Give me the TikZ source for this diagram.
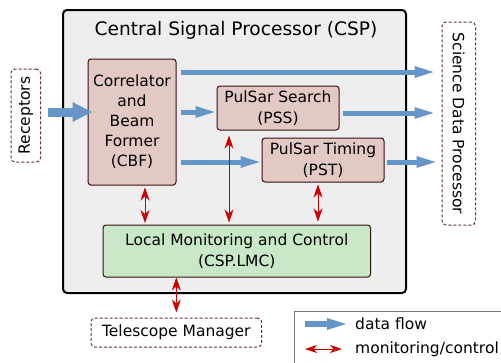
\documentclass[tikz,border=0pt]{standalone}
\usepackage{fontspec}
\setmainfont{DejaVu Sans}
\usepackage{graphicx}
\usetikzlibrary{arrows.meta}

\definecolor{flowblue}{RGB}{100,150,200}
\definecolor{ctlred}{RGB}{204,0,0}
\definecolor{boxedge}{RGB}{58,13,13}
\definecolor{dashedge}{RGB}{106,48,48}
\definecolor{subfill}{RGB}{227,201,195}
\definecolor{lmcfill}{RGB}{200,232,200}
\definecolor{cspfill}{RGB}{238,238,238}

\tikzset{
  txt/.style={font=\fontsize{15.5}{21}\selectfont},
  cspbox/.style={draw=black, line width=2pt, fill=cspfill, rounded corners=4pt, inner sep=0pt},
  subbox/.style={draw=boxedge, line width=1pt, fill=subfill, rounded corners=3pt,
                 inner sep=0pt, align=center, txt},
  lmcbox/.style={subbox, fill=lmcfill},
  extbox/.style={draw=dashedge, line width=1pt, dash pattern=on 3pt off 2pt,
                 fill=white, rounded corners=4pt, inner sep=0pt, align=center, txt},
  flow/.style={draw=flowblue, line width=5pt,
               -{Triangle[length=19pt,width=12pt,line width=0pt]}},
  bigflow/.style={draw=flowblue, line width=9pt,
               -{Triangle[length=19pt,width=20pt,line width=0pt]}},
  ctl/.style={draw=ctlred, line width=0.9pt,
              {Stealth[length=13pt,width=9pt,inset=4pt]}-{Stealth[length=13pt,width=9pt,inset=4pt]}},
  ctlsmall/.style={draw=ctlred, line width=0.9pt,
              {Stealth[length=12pt,width=8pt,inset=3.5pt]}-{Stealth[length=12pt,width=8pt,inset=3.5pt]}},
}

\begin{document}
\begin{tikzpicture}[x=1pt, y=-1pt]
\useasboundingbox (0,0) rectangle (501,362);

% Central Signal Processor frame and title
\node[cspbox, minimum width=343pt, minimum height=283pt] (csp) at (234.5,151.5) {};
\node[font=\fontsize{18.6}{22}\selectfont] (title) at (236,30) {Central Signal Processor (CSP)};

% external entities
\node[extbox, minimum width=29.5pt, minimum height=93pt] (rec) at (25.75,115.5)
  {\rotatebox[origin=c]{90}{Receptors}};
\node[extbox, minimum width=33.5pt, minimum height=203pt] (sdp) at (458.75,123.5)
  {\rotatebox[origin=c]{-90}{Science Data Processor}};
\node[extbox, minimum width=170.7pt, minimum height=29pt] (tm) at (176.35,332.5)
  {Telescope Manager};

% CSP sub-elements
\node[subbox, minimum width=88pt, minimum height=126pt,
      font=\fontsize{15.5}{20}\selectfont] (cbf) at (132,122)
  {Correlator\\and\\Beam\\Former\\(CBF)};
\node[subbox, minimum width=122pt, minimum height=44pt] (pss) at (278,108)
  {PulSar Search\\(PSS)};
\node[subbox, minimum width=122pt, minimum height=44pt] (pst) at (323,160)
  {PulSar Timing\\(PST)};
\node[lmcbox, minimum width=267.5pt, minimum height=52pt] (lmc) at (236.75,251)
  {Local Monitoring and Control\\(CSP.LMC)};

% data flow
\draw[bigflow, shorten <=6.5pt, shorten >=-4pt] (rec.east |- 0,112) -- (cbf.west |- 0,112);
\draw[flow, shorten <=4pt, shorten >=8pt] (cbf.east |- 0,72) -- (sdp.west |- 0,72);
\draw[flow, shorten <=4pt, shorten >=2pt] (cbf.east |- 0,112) -- (pss.west |- 0,112);
\draw[flow, shorten <=3pt, shorten >=8pt] (pss.east |- 0,113) -- (sdp.west |- 0,113);
\draw[flow, shorten <=4pt, shorten >=2pt] (cbf.east |- 0,162) -- (pst.west |- 0,162);
\draw[flow, shorten <=2pt, shorten >=6pt] (pst.east |- 0,162) -- (sdp.west |- 0,162);

% monitoring and control
\draw[ctl, shorten <=2pt, shorten >=1.5pt] (cbf.south -| 145,0) -- (lmc.north -| 145,0);
\draw[ctl, shorten <=5pt, shorten >=2pt] (pss.south -| 229,0) -- (lmc.north -| 229,0);
\draw[ctl, shorten <=2pt, shorten >=3pt] (pst.south -| 318,0) -- (lmc.north -| 318,0);
\draw[ctl, shorten <=0pt, shorten >=5pt] (lmc.south -| tm.north) -- (tm.north);

% legend
\node[draw={rgb,255:red,120;green,120;blue,120}, line width=1pt, inner sep=0pt,
      minimum width=240pt, minimum height=70pt, anchor=north west] (legend) at (294,310.5) {};
\coordinate (lfa) at (305,324);
\coordinate (lfb) at (346,324);
\coordinate (lca) at (305,349);
\coordinate (lcb) at (342,349);
\draw[flow, line width=6pt] (lfa) -- (lfb);
\draw[ctlsmall] (lca) -- (lcb);
\node[txt, anchor=base west, inner sep=0pt] (lflow) at (355,329) {data flow};
\node[txt, anchor=base west, inner sep=0pt] (lctl) at (355,353) {monitoring/control};
\end{tikzpicture}
\end{document}
